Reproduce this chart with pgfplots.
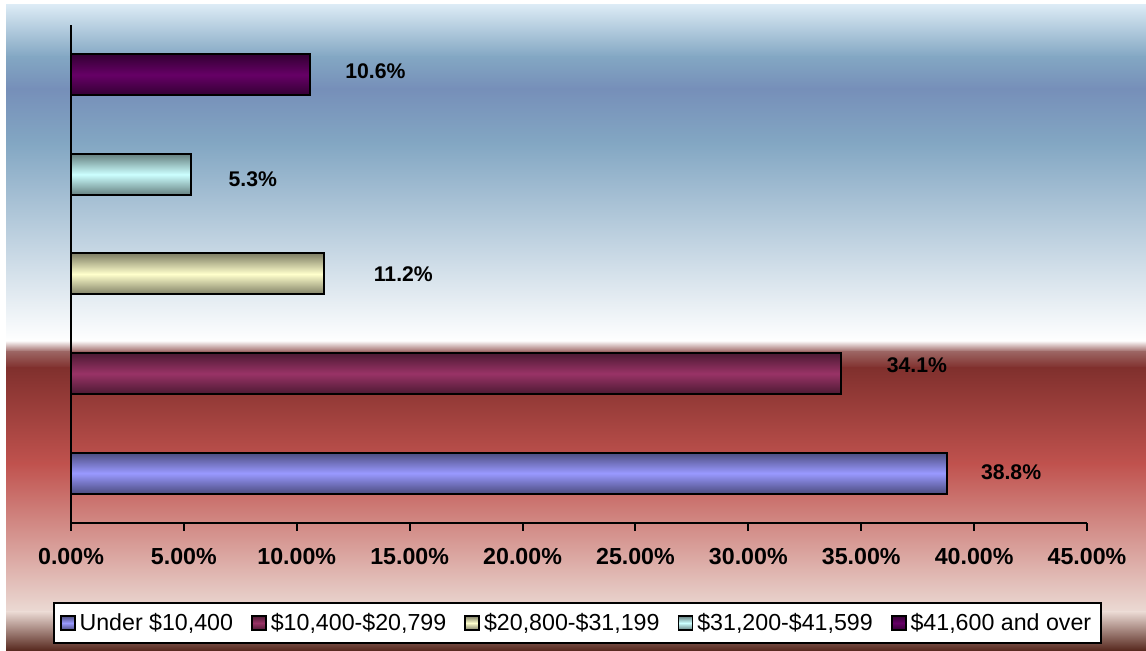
\documentclass[border=0pt]{standalone}
\usepackage{fontspec}
\setmainfont{Liberation Sans}
\usepackage{pgfplots}
\pgfplotsset{compat=1.18}

\definecolor{cA}{HTML}{9999FF}
\definecolor{cB}{HTML}{993366}
\definecolor{cC}{HTML}{FFFFCC}
\definecolor{cD}{HTML}{CCFFFF}
\definecolor{cE}{HTML}{660066}
% background stops (Excel "Horizon")
\definecolor{g0}{HTML}{DCEBF5}
\definecolor{g1}{HTML}{83A7C3}
\definecolor{g2}{HTML}{768FB9}
\definecolor{g3}{HTML}{83A7C3}
\definecolor{g4}{HTML}{FFFFFF}
\definecolor{g5}{HTML}{9C6563}
\definecolor{g6}{HTML}{80302D}
\definecolor{g7}{HTML}{C0524E}
\definecolor{g8}{HTML}{EBDAD4}
\definecolor{g9}{HTML}{55261C}

\pgfplotsset{
  barstyle/.style={top color=#1!50!black, bottom color=#1!50!black, middle color=#1, draw=black, line width=1pt},
  lbl/.style n args={2}{nodes near coords={\pgfmathprintnumber[fixed,fixed zerofill,precision=1,assume math mode=true]{\pgfplotspointmeta}\%},
    every node near coord/.append style={anchor=west, inner sep=0pt, xshift=#1, yshift=#2,
      font=\fontsize{10.6}{12}\selectfont\bfseries, text=black}},
}

% px -> pt : 0.5, y measured from bottom
\newcommand{\bgband}[4]{\shade[top color=#3, bottom color=#4] (3pt,{(651-#2)*0.5pt}) rectangle (573pt,{(651-#1)*0.5pt+0.2pt});}

\begin{document}
\begin{tikzpicture}
\fill[white] (0,0) rectangle (573pt,325.5pt);
\bgband{5}{57}{g0}{g1}
\bgband{57}{89}{g1}{g2}
\bgband{89}{144}{g2}{g3}
\bgband{144}{341}{g3}{g4}
\bgband{341}{352}{g4}{g5}
\bgband{352}{368}{g5}{g6}
\bgband{368}{464}{g6}{g7}
\bgband{464}{612}{g7}{g8}
\bgband{612}{651}{g8}{g9}

\begin{axis}[
  at={(35.5pt,64pt)}, anchor=south west,
  scale only axis, width=508pt, height=249pt,
  xbar, bar width=20.5pt, bar shift=0pt,
  xmin=0, xmax=45, ymin=-0.5, ymax=4.5,
  axis x line*=bottom, axis y line*=left,
  axis line style={-, line width=1pt, black},
  ytick=\empty,
  xtick={0,5,...,45},
  xticklabels={0.00\%,5.00\%,10.00\%,15.00\%,20.00\%,25.00\%,30.00\%,35.00\%,40.00\%,45.00\%},
  tick align=outside, major tick length=4pt,
  tick style={black, line width=1pt},
  xticklabel style={font=\fontsize{11.6}{13}\selectfont\bfseries, yshift=-5pt},
  point meta=x,
  legend columns=5,
  legend style={at={(0.4985,-0.2008)}, anchor=center, draw=black, line width=0.9pt, fill=white,
    font=\fontsize{11.6}{13}\selectfont, inner xsep=3pt, inner ysep=3pt,
    /tikz/every even column/.append style={column sep=7pt}},
  legend image code/.code={\draw[#1, line width=0.9pt] (0pt,-3.5pt) rectangle (7pt,3.5pt);},
]
\addplot[barstyle=cA, lbl={16.5pt}{0.5pt}] coordinates {(38.8,0)};
\addplot[barstyle=cB, lbl={22.5pt}{4.3pt}] coordinates {(34.1,1)};
\addplot[barstyle=cC, lbl={24.5pt}{0pt}] coordinates {(11.2,2)};
\addplot[barstyle=cD, lbl={18.5pt}{-2.5pt}] coordinates {(5.3,3)};
\addplot[barstyle=cE, lbl={17pt}{2pt}] coordinates {(10.6,4)};
\legend{{Under \$10,400},{\$10,400-\$20,799},{\$20,800-\$31,199},{\$31,200-\$41,599},{\$41,600 and over}}
\end{axis}
\pgfresetboundingbox
\path[use as bounding box] (0,0) rectangle (573pt,325.5pt);
\end{tikzpicture}
\end{document}
